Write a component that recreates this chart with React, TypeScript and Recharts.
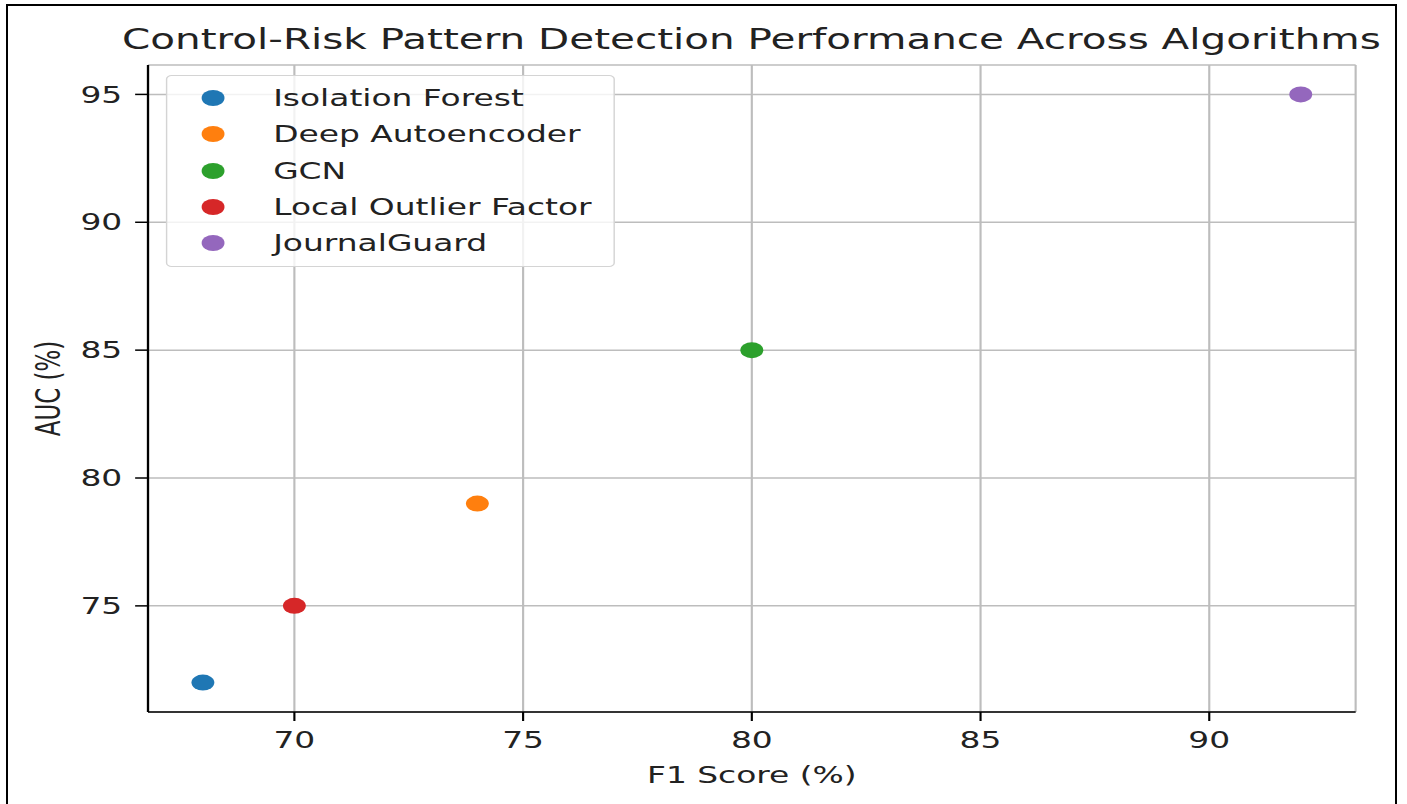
import React from "react"
import {
  CartesianGrid,
  Label,
  Legend,
  Scatter,
  ScatterChart,
  XAxis,
  YAxis,
} from "recharts"

// values
const algorithms = [
  "Isolation Forest",
  "Deep Autoencoder",
  "GCN",
  "Local Outlier Factor",
  "JournalGuard",
]
const f1Scores = [68, 74, 80, 70, 92]
const aucScores = [72, 79, 85, 75, 95]
const colors = ["#1f77b4", "#ff7f0e", "#2ca02c", "#d62728", "#9467bd"]
const xTicks = [70, 75, 80, 85, 90]
const yTicks = [75, 80, 85, 90, 95]

// matplotlib-style 5% padding around the data
const pad = (vals: number[]): [number, number] => {
  const lo = Math.min(...vals)
  const hi = Math.max(...vals)
  const m = (hi - lo) * 0.05
  return [lo - m, hi + m]
}
const xDomain = pad(f1Scores)
const yDomain = pad(aucScores)

const FONT = "'DejaVu Sans', sans-serif"
const INK = "#222"
const STRETCH = 1.43
const W = 984
const H = 804

const series = algorithms.map((name, i) => ({
  name,
  color: colors[i],
  data: [{ f1: f1Scores[i], auc: aucScores[i] }],
}))

function LegendBox({ payload }: any) {
  // keep plotting order, not alphabetical
  const items = [...(payload || [])].sort(
    (a: any, b: any) => algorithms.indexOf(a.value) - algorithms.indexOf(b.value)
  )
  return (
    <div
      style={{
        boxSizing: "border-box",
        width: 314,
        height: 192,
        paddingTop: 4,
        background: "rgba(255,255,255,0.8)",
        border: "1px solid #d4d4d4",
        borderRadius: 4,
        fontFamily: FONT,
        fontSize: 23,
        color: INK,
      }}
    >
      {items.map((entry: any) => (
        <div
          key={entry.value}
          style={{ height: 36.3, display: "flex", alignItems: "center", position: "relative" }}
        >
          <span
            style={{
              position: "absolute",
              left: 24,
              width: 16,
              height: 16,
              borderRadius: "50%",
              background: entry.color,
            }}
          />
          <span style={{ position: "absolute", left: 74, whiteSpace: "nowrap" }}>
            {entry.value}
          </span>
        </div>
      ))}
    </div>
  )
}

export default function App() {
  const axisLine = { stroke: "#000", strokeWidth: 1.6 }
  const tickLine = { stroke: "#000", strokeWidth: 1.5 }
  const tick = { fill: INK, fontSize: 23, fontFamily: FONT }

  return (
    <div
      style={{
        position: "absolute",
        left: 0,
        top: 0,
        width: 1407,
        height: 804,
        overflow: "hidden",
        background: "#fff",
      }}
    >
      <div
        style={{
          position: "absolute",
          left: 6,
          top: 4,
          width: 1391,
          height: 900,
          boxSizing: "border-box",
          border: "2px solid #000",
        }}
      />
      <div
        style={{
          position: "absolute",
          left: 0,
          top: 0,
          width: W,
          height: H,
          transform: `scaleX(${STRETCH})`,
          transformOrigin: "0 0",
        }}
      >
        <div
          style={{
            position: "absolute",
            left: 25.5,
            width: 1000,
            top: 26,
            textAlign: "center",
            fontFamily: FONT,
            fontSize: 28.3,
            lineHeight: "28px",
            color: INK,
            whiteSpace: "nowrap",
            zIndex: 2,
          }}
        >
          Control-Risk Pattern Detection Performance Across Algorithms
        </div>
        <ScatterChart width={W} height={H} margin={{ top: 65, right: 36, left: 0, bottom: 0 }}>
          <XAxis
            xAxisId={0}
            type="number"
            dataKey="f1"
            domain={xDomain}
            ticks={xTicks}
            allowDataOverflow
            height={92}
            tickSize={9}
            tickMargin={11}
            axisLine={axisLine}
            tickLine={tickLine}
            tick={tick}
          >
            <Label
              value="F1 Score (%)"
              position="insideBottom"
              offset={21}
              fill={INK}
              fontSize={23}
              fontFamily={FONT}
            />
          </XAxis>
          <XAxis
            xAxisId="top"
            orientation="top"
            type="number"
            domain={xDomain}
            height={0}
            tick={false}
            tickLine={false}
            axisLine={axisLine}
          />
          <YAxis
            yAxisId={0}
            type="number"
            dataKey="auc"
            domain={yDomain}
            ticks={yTicks}
            allowDataOverflow
            width={103.5}
            tickSize={9}
            tickMargin={9}
            axisLine={axisLine}
            tickLine={tickLine}
            tick={tick}
          >
            <Label
              value="AUC (%)"
              angle={-90}
              position="insideLeft"
              offset={34}
              fill={INK}
              fontSize={23}
              fontFamily={FONT}
              style={{ textAnchor: "middle" }}
            />
          </YAxis>
          <YAxis
            yAxisId="right"
            orientation="right"
            type="number"
            domain={yDomain}
            width={0}
            tick={false}
            tickLine={false}
            axisLine={axisLine}
          />
          <Legend
            layout="vertical"
            align="center"
            verticalAlign="middle"
            wrapperStyle={{ left: 116, top: 75, width: 314, height: 192 }}
            content={<LegendBox />}
          />
          {series.map((s) => (
            <Scatter
              key={s.name}
              name={s.name}
              data={s.data}
              fill={s.color}
              isAnimationActive={false}
              shape={(p: any) => <circle cx={p.cx} cy={p.cy} r={8} fill={s.color} />}
            />
          ))}
          <CartesianGrid stroke="#bdbdbd" strokeWidth={1.5} />
        </ScatterChart>
      </div>
    </div>
  )
}
